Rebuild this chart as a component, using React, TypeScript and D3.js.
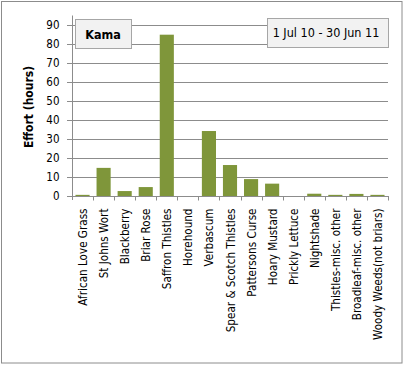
import React from "react";
import * as d3 from "d3";

const categories = [
  "African Love Grass",
  "St Johns Wort",
  "Blackberry",
  "Briar Rose",
  "Saffron Thistles",
  "Horehound",
  "Verbascum",
  "Spear & Scotch Thistles",
  "Pattersons Curse",
  "Hoary Mustard",
  "Prickly Lettuce",
  "Nightshade",
  "Thistles-misc. other",
  "Broadleaf-misc. other",
  "Woody Weeds(not briars)",
];
const effortHours = [0.6, 14.8, 2.6, 4.7, 84.9, 0, 34.2, 16.3, 8.9, 6.5, 0, 1.2, 0.6, 1.1, 0.6];
const yTicks = [0, 10, 20, 30, 40, 50, 60, 70, 80, 90];
const title = "Kama";
const period = "1 Jul 10 - 30 Jun 11";
const yTitle = "Effort (hours)";

export default function App() {
  const W = 404, H = 365;
  const left = 72, right = 388, top = 15.5, bottom = 196;
  const x = d3.scaleBand<string>().domain(categories).range([left, right]).paddingInner(0.33).paddingOuter(0.165);
  const xb = d3.scaleBand<string>().domain(categories).range([left, right]);
  const y = d3.scaleLinear().domain([0, 95]).range([bottom, top]);
  const font = "DejaVu Sans, Verdana, sans-serif";
  const cond = "DejaVu Sans Condensed, DejaVu Sans, sans-serif";
  return (
    <svg width={W} height={H} style={{ position: "absolute", left: 0, top: 0 }} fontFamily={font}>
      <rect x={0} y={0} width={W} height={H} fill="#fff" />
      <rect x={1.5} y={1.5} width={400.5} height={361.5} fill="#fff" stroke="#8c8c8c" strokeWidth={1} />
      {yTicks.map((t) => (
        <g key={t}>
          <line x1={67} x2={right} y1={Math.round(y(t)) + 0.5} y2={Math.round(y(t)) + 0.5} stroke="#8c8c8c" strokeWidth={1} />
          <text x={59.5} y={y(t)} dy="0.36em" textAnchor="end" fontSize={11.5} fontFamily={cond} fill="#000">{t}</text>
        </g>
      ))}
      <line x1={left + 0.5} x2={left + 0.5} y1={top} y2={bottom + 4} stroke="#8c8c8c" />
      {categories.map((c, i) => (
        <rect key={c} x={x(c)} y={y(effortHours[i])} width={x.bandwidth()} height={bottom - y(effortHours[i])} fill="#7f963a" />
      ))}
      {categories.map((c) => (
        <line key={c + "t"} x1={Math.round((xb(c) as number) + xb.bandwidth()) + 0.5} x2={Math.round((xb(c) as number) + xb.bandwidth()) + 0.5} y1={bottom} y2={bottom + 4.5} stroke="#8c8c8c" />
      ))}
      {categories.map((c) => {
        const cx = (xb(c) as number) + xb.bandwidth() / 2;
        return (
          <text key={c + "l"} transform={`translate(${cx + 4.5},${208.5}) rotate(-90)`} textAnchor="end" fontSize={11.6} fontFamily={cond} fill="#000">{c}</text>
        );
      })}
      <text transform={`translate(32.5,107) rotate(-90)`} textAnchor="middle" fontSize={12} fontFamily={cond} fontWeight="bold" fill="#000">{yTitle}</text>
      <rect x={75.5} y={19.5} width={56} height={29} fill="#f2f2f2" stroke="#a6a6a6" />
      <text x={103} y={34} dy="0.36em" textAnchor="middle" fontSize={12.5} fontFamily={cond} fontWeight="bold" fill="#000">{title}</text>
      <rect x={267.5} y={18.5} width={121} height={29} fill="#f2f2f2" stroke="#a6a6a6" />
      <text x={326} y={32.5} dy="0.36em" textAnchor="middle" fontSize={12.5} fontFamily={cond} fill="#000">{period}</text>
    </svg>
  );
}
